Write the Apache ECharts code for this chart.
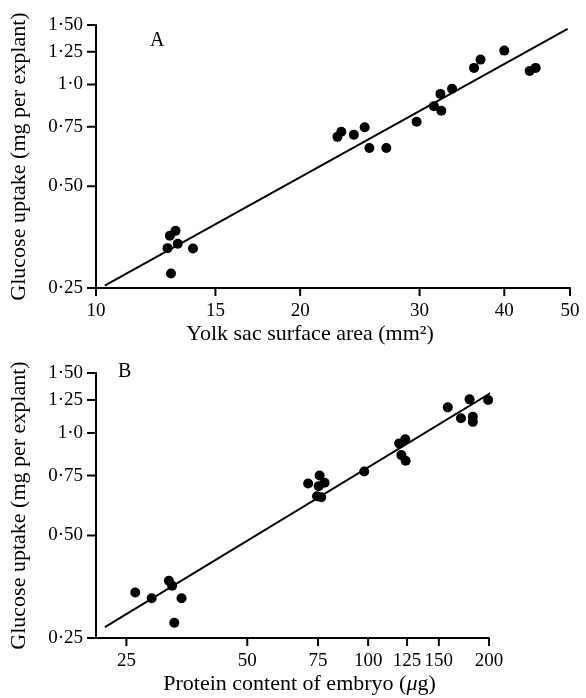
<!DOCTYPE html>
<html>
<head>
<meta charset="utf-8">
<script src="https://cdn.jsdelivr.net/npm/echarts@6/dist/echarts.min.js"></script>
<style>
html,body{margin:0;padding:0;background:#fff;}
#chart{width:586px;height:698px;}
</style>
</head>
<body>
<div id="chart"></div>
<script>
// ---- Data ----
const yTickValues = [0.25, 0.5, 0.75, 1.0, 1.25, 1.5];
const yTickLabels = ['0·25', '0·50', '0·75', '1·0', '1·25', '1·50'];
const xTicksA = [10, 15, 20, 30, 40, 50];
const xTicksB = [25, 50, 75, 100, 125, 150, 200];

// Panel A: yolk sac surface area (mm2) vs glucose uptake (mg per explant)
const areaA   = [13.1, 12.85, 13.2, 12.75, 13.9, 12.9, 22.7, 23.0, 24.0, 24.9, 25.3, 26.8, 29.7, 31.5, 32.3, 32.2, 33.5, 36.1, 36.9, 40.0, 43.6, 44.5];
const uptakeA = [0.369, 0.357, 0.338, 0.328, 0.327, 0.276, 0.700, 0.725, 0.710, 0.747, 0.649, 0.649, 0.776, 0.863, 0.836, 0.938, 0.971, 1.12, 1.185, 1.26, 1.097, 1.12];
const fitAx = [10.3, 49.6];
const fitAy = [0.254, 1.46];

// Panel B: protein content of embryo (ug) vs glucose uptake (mg per explant)
const proteinB = [26.3, 28.9, 31.9, 32.5, 34.3, 32.9, 70.9, 75.7, 77.9, 75.3, 74.6, 76.4, 97.8, 119.5, 123.7, 121.0, 124.0, 157.9, 178.9, 170.3, 182.3, 182.3, 199.0];
const uptakeB  = [0.340, 0.327, 0.368, 0.356, 0.327, 0.277, 0.711, 0.750, 0.714, 0.698, 0.652, 0.648, 0.771, 0.932, 0.958, 0.861, 0.829, 1.189, 1.255, 1.105, 1.115, 1.078, 1.249];
const fitBx = [22.1, 204];
const fitBy = [0.269, 1.32];

// Axis ranges
const xMinA = 10, xMaxA = 50;
const xMinB = 21, xMaxB = 200;
const yMin = 0.25, yMax = 1.5;

// ---- Chart ----
const FONT = 'Liberation Serif';
const chart = echarts.init(document.getElementById('chart'), null, {renderer: 'canvas'});

function yLabelFmt(v) {
  for (let i = 0; i < yTickValues.length; i++) {
    if (Math.abs(yTickValues[i] - v) < 1e-6) return yTickLabels[i];
  }
  return '';
}
function xLabelFmt(v) { return String(Math.round(v)); }

const axisLine = {show: true, lineStyle: {color: '#000', width: 2}};
const yName = 'Glucose uptake (mg per explant)';

function yAxis(gridIndex) {
  return {
    type: 'log', gridIndex: gridIndex, min: yMin, max: yMax,
    name: yName, nameLocation: 'middle', nameGap: 66,
    nameTextStyle: {fontFamily: FONT, fontSize: 22, color: '#000'},
    axisLine: axisLine,
    axisTick: {show: false},
    axisLabel: {show: true, margin: 13, fontFamily: FONT, fontSize: 19, color: '#000', customValues: yTickValues, formatter: yLabelFmt},
    splitLine: {show: false}, minorTick: {show: false}
  };
}

function xAxis(gridIndex, min, max, ticks, name, rich, pad) {
  return {
    type: 'log', gridIndex: gridIndex, min: min, max: max,
    name: name, nameLocation: 'middle', nameGap: 35,
    nameTextStyle: {fontFamily: FONT, fontSize: 22, color: '#000', rich: rich, padding: pad},
    axisLine: axisLine,
    axisTick: {show: false},
    axisLabel: {show: true, margin: 14, fontFamily: FONT, fontSize: 19, color: '#000', customValues: ticks, formatter: xLabelFmt},
    splitLine: {show: false}, minorTick: {show: false}
  };
}

const pairs = (xs, ys) => xs.map((x, i) => [x, ys[i]]);

// Tick marks drawn through the axes' own scales (custom series)
function tickSeries(xi, data, dx, dy) {
  return {
    type: 'custom', xAxisIndex: xi, yAxisIndex: xi, silent: true, clip: false, z: 1,
    data: data,
    renderItem: function (params, api) {
      const p = api.coord([api.value(0), api.value(1)]);
      return {type: 'line', shape: {x1: p[0], y1: p[1], x2: p[0] + dx, y2: p[1] + dy},
              style: {stroke: '#000', lineWidth: 2}};
    }
  };
}

const dotStyle = {color: '#000', opacity: 1};

const option = {
  animation: false,
  backgroundColor: '#fff',
  grid: [
    {left: 95, right: 16, top: 25, bottom: 410},
    {left: 93, right: 97, top: 373, bottom: 60}
  ],
  xAxis: [
    xAxis(0, xMinA, xMaxA, xTicksA, 'Yolk sac surface area (mm²)', {}, [0, 46, 0, 0]),
    xAxis(1, xMinB, xMaxB, xTicksB, 'Protein content of embryo ({i|μ}g)', {i: {fontFamily: FONT, fontSize: 22, fontStyle: 'italic', color: '#000'}}, [0, 0, 0, 14])
  ],
  yAxis: [yAxis(0), yAxis(1)],
  graphic: [
    {type: 'text', left: 150, top: 31, style: {text: 'A', font: '20px "Liberation Serif"', fill: '#000'}},
    {type: 'text', left: 118, top: 362, style: {text: 'B', font: '20px "Liberation Serif"', fill: '#000'}}
  ],
  series: [
    tickSeries(0, yTickValues.map(v => [xMinA, v]), -9, 0),
    tickSeries(0, xTicksA.map(v => [v, yMin]), 0, 8),
    tickSeries(1, yTickValues.map(v => [xMinB, v]), -9, 0),
    tickSeries(1, xTicksB.map(v => [v, yMin]), 0, 8),
    {type: 'line', xAxisIndex: 0, yAxisIndex: 0, data: pairs(fitAx, fitAy), symbol: 'none', lineStyle: {color: '#000', width: 2}, clip: false, z: 2},
    {type: 'scatter', xAxisIndex: 0, yAxisIndex: 0, data: pairs(areaA, uptakeA), symbolSize: 10, itemStyle: dotStyle, z: 3},
    {type: 'line', xAxisIndex: 1, yAxisIndex: 1, data: pairs(fitBx, fitBy), symbol: 'none', lineStyle: {color: '#000', width: 2}, clip: false, z: 2},
    {type: 'scatter', xAxisIndex: 1, yAxisIndex: 1, data: pairs(proteinB, uptakeB), symbolSize: 10, itemStyle: dotStyle, z: 3}
  ]
};
chart.setOption(option);
</script>
</body>
</html>
